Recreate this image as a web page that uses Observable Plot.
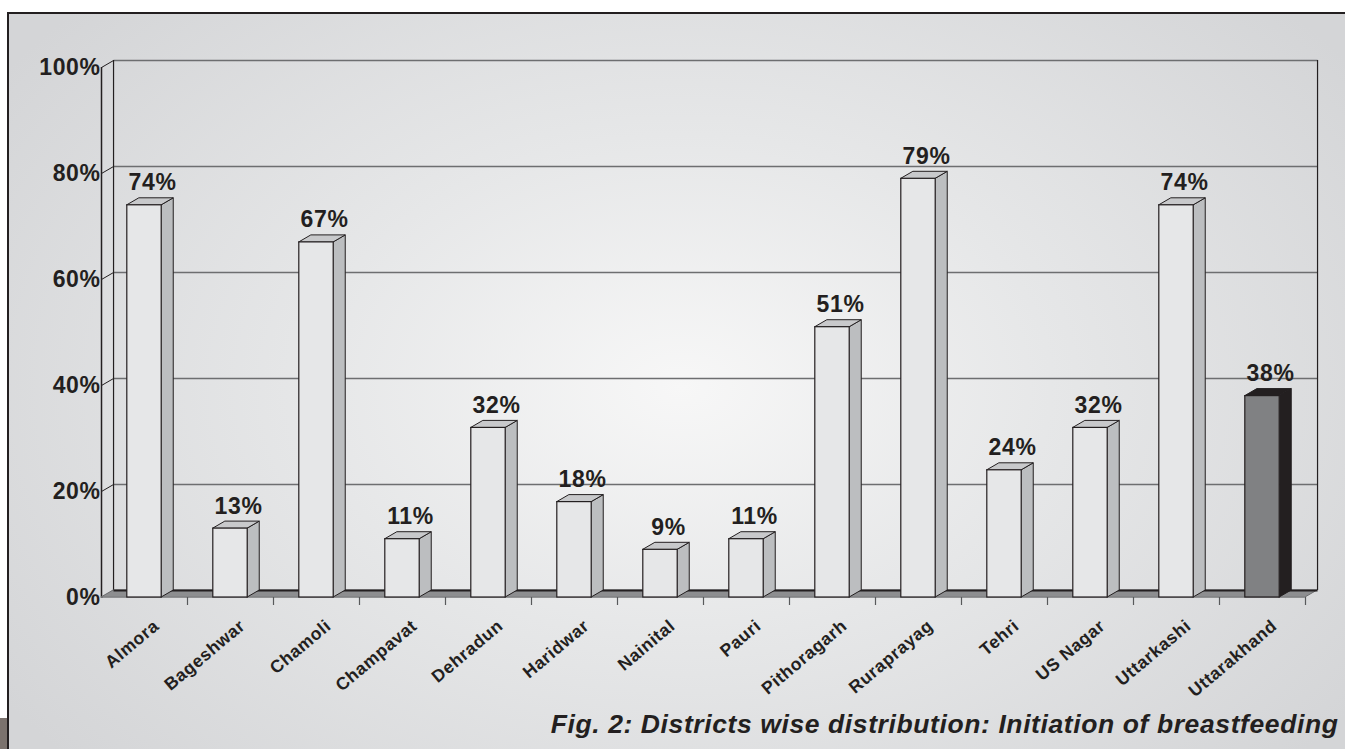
<!DOCTYPE html>
<html>
<head>
<meta charset="utf-8">
<script src="https://cdn.jsdelivr.net/npm/d3@7"></script>
<script src="https://cdn.jsdelivr.net/npm/@observablehq/plot@0.6"></script>
<style>
html, body { margin: 0; padding: 0; background: #ffffff; overflow: hidden; width: 1345px; height: 749px; }
#chart { width: 1345px; height: 749px; overflow: hidden; }
#chart svg text { letter-spacing: 0.6px; }
</style>
</head>
<body>
<div id="chart"></div>
<script>
// ---- data ----
const districts = ["Almora", "Bageshwar", "Chamoli", "Champavat", "Dehradun", "Haridwar", "Nainital",
  "Pauri", "Pithoragarh", "Ruraprayag", "Tehri", "US Nagar", "Uttarkashi", "Uttarakhand"];
const values = [74, 13, 67, 11, 32, 18, 9, 11, 51, 79, 24, 32, 74, 38];
const yTicks = [0, 20, 40, 60, 80, 100];
const yTickLabels = ["0%", "20%", "40%", "60%", "80%", "100%"];
const captionText = "Fig. 2: Districts wise distribution: Initiation of breastfeeding";

// ---- 3D look (in scale units) ----
const DX = 0.14;   // depth, in category widths
const DY = 1.32;   // depth, in percentage points
const X0 = 0.3, X1 = 0.7; // front face span inside a category

const n = districts.length;
const rows = districts.map((name, i) => ({name, i, v: values[i], total: i === n - 1}));
const sides = rows.flatMap(d => [
  {key: d.name, total: d.total, x: d.i + X1, y1: 0, y2: d.v},
  {key: d.name, total: d.total, x: d.i + X1 + DX, y1: DY, y2: d.v + DY}
]);
const tops = rows.flatMap(d => [
  {key: d.name, total: d.total, y: d.v, x1: d.i + X0, x2: d.i + X1},
  {key: d.name, total: d.total, y: d.v + DY, x1: d.i + X0 + DX, x2: d.i + X1 + DX}
]);
const floor = [{y: 0, x1: 0, x2: n}, {y: DY, x1: DX, x2: n + DX}];

const font = "'Liberation Sans', Arial, Helvetica, sans-serif";
const ink = "#231f20";
const light = d => !d.total;
const dark = d => d.total;

const bg = [
  "linear-gradient(#7b726d, #7b726d) 0px 718px / 7px 40px no-repeat",
  "radial-gradient(ellipse 820px 560px at 673px 373px, #f7f7f7 0%, #e6e7e8 45%, #d4d5d7 100%) 9px 14px / 1420px 820px no-repeat",
  "linear-gradient(#231f20, #231f20) 7px 12px / 1420px 820px no-repeat",
  "#ffffff"
].join(", ");

const chart = Plot.plot({
  width: 1345,
  height: 749,
  marginLeft: 101,
  marginRight: 40,
  marginTop: 67,
  marginBottom: 152,
  style: {fontFamily: font, background: bg},
  x: {type: "linear", domain: [0, n]},
  y: {type: "linear", domain: [0, 100]},
  marks: [
    // back wall grid lines
    Plot.link(yTicks.filter(t => t > 0), {x1: DX, x2: n + DX, y1: t => t + DY, y2: t => t + DY, stroke: "#6d6e70", strokeWidth: 1.6}),
    // diagonal ticks from the front axis to the back wall
    Plot.link(yTicks, {x1: 0, x2: DX, y1: t => t, y2: t => t + DY, stroke: ink, strokeWidth: 1}),
    // back wall side edges
    Plot.ruleX([DX], {y1: DY, y2: 100 + DY, stroke: ink, strokeWidth: 1.2}),
    Plot.ruleX([n + DX], {y1: DY, y2: 100 + DY, stroke: ink, strokeWidth: 1.2}),
    // front value axis
    Plot.ruleX([0], {y1: 0, y2: 100, stroke: ink, strokeWidth: 1.5}),
    // floor
    Plot.areaX(floor, {y: "y", x1: "x1", x2: "x2", fill: "#8d8e90", stroke: "#6d6e70", strokeWidth: 1}),
    Plot.link([0], {x1: DX, x2: n + DX, y1: DY, y2: DY, stroke: ink, strokeWidth: 2}),
    // category ticks
    Plot.axisX(d3.range(1, n + 1), {tickSize: 8, tickFormat: () => "", stroke: "#58595b", strokeWidth: 1.2}),
    // bars: side faces
    Plot.areaY(sides, {filter: light, x: "x", y1: "y1", y2: "y2", z: "key", fill: "#bcbec0", stroke: ink, strokeWidth: 1}),
    Plot.areaY(sides, {filter: dark, x: "x", y1: "y1", y2: "y2", z: "key", fill: "#231f20", stroke: ink, strokeWidth: 1}),
    // bars: top faces
    Plot.areaX(tops, {filter: light, y: "y", x1: "x1", x2: "x2", z: "key", fill: "#c8c9cb", stroke: ink, strokeWidth: 1}),
    Plot.areaX(tops, {filter: dark, y: "y", x1: "x1", x2: "x2", z: "key", fill: "#231f20", stroke: ink, strokeWidth: 1}),
    // bars: front faces
    Plot.rect(rows, {filter: light, x1: d => d.i + X0, x2: d => d.i + X1, y1: 0, y2: "v", fill: "#e6e7e8", stroke: ink, strokeWidth: 1.2}),
    Plot.rect(rows, {filter: dark, x1: d => d.i + X0, x2: d => d.i + X1, y1: 0, y2: "v", fill: "#808183", stroke: ink, strokeWidth: 1.2}),
    // value axis labels
    Plot.axisY(yTicks, {anchor: "left", tickSize: 0, tickPadding: 1, tickFormat: t => yTickLabels[yTicks.indexOf(t)],
      fontSize: 23, fontWeight: "bold", fill: ink, color: ink}),
    // category labels
    Plot.text(rows, {x: d => d.i + 0.5, y: 0, text: "name", rotate: -40, textAnchor: "end", lineAnchor: "middle",
      dx: 12, dy: 26, fontSize: 17.5, fontWeight: "bold", fill: ink}),
    // value labels
    Plot.text(rows, {x: d => d.i + 0.5 + DX / 2, y: d => d.v + DY, text: d => d.v + "%", dx: 2, dy: -8, lineAnchor: "bottom",
      fontSize: 23, fontWeight: "bold", fill: ink}),
    // caption
    Plot.text([captionText], {frameAnchor: "bottom-right", text: d => d, dx: 33, dy: 135, textAnchor: "end", lineAnchor: "bottom",
      fontSize: 26.5, fontWeight: "bold", fontStyle: "italic", fill: ink})
  ]
});
document.getElementById("chart").append(chart);
</script>
</body>
</html>
